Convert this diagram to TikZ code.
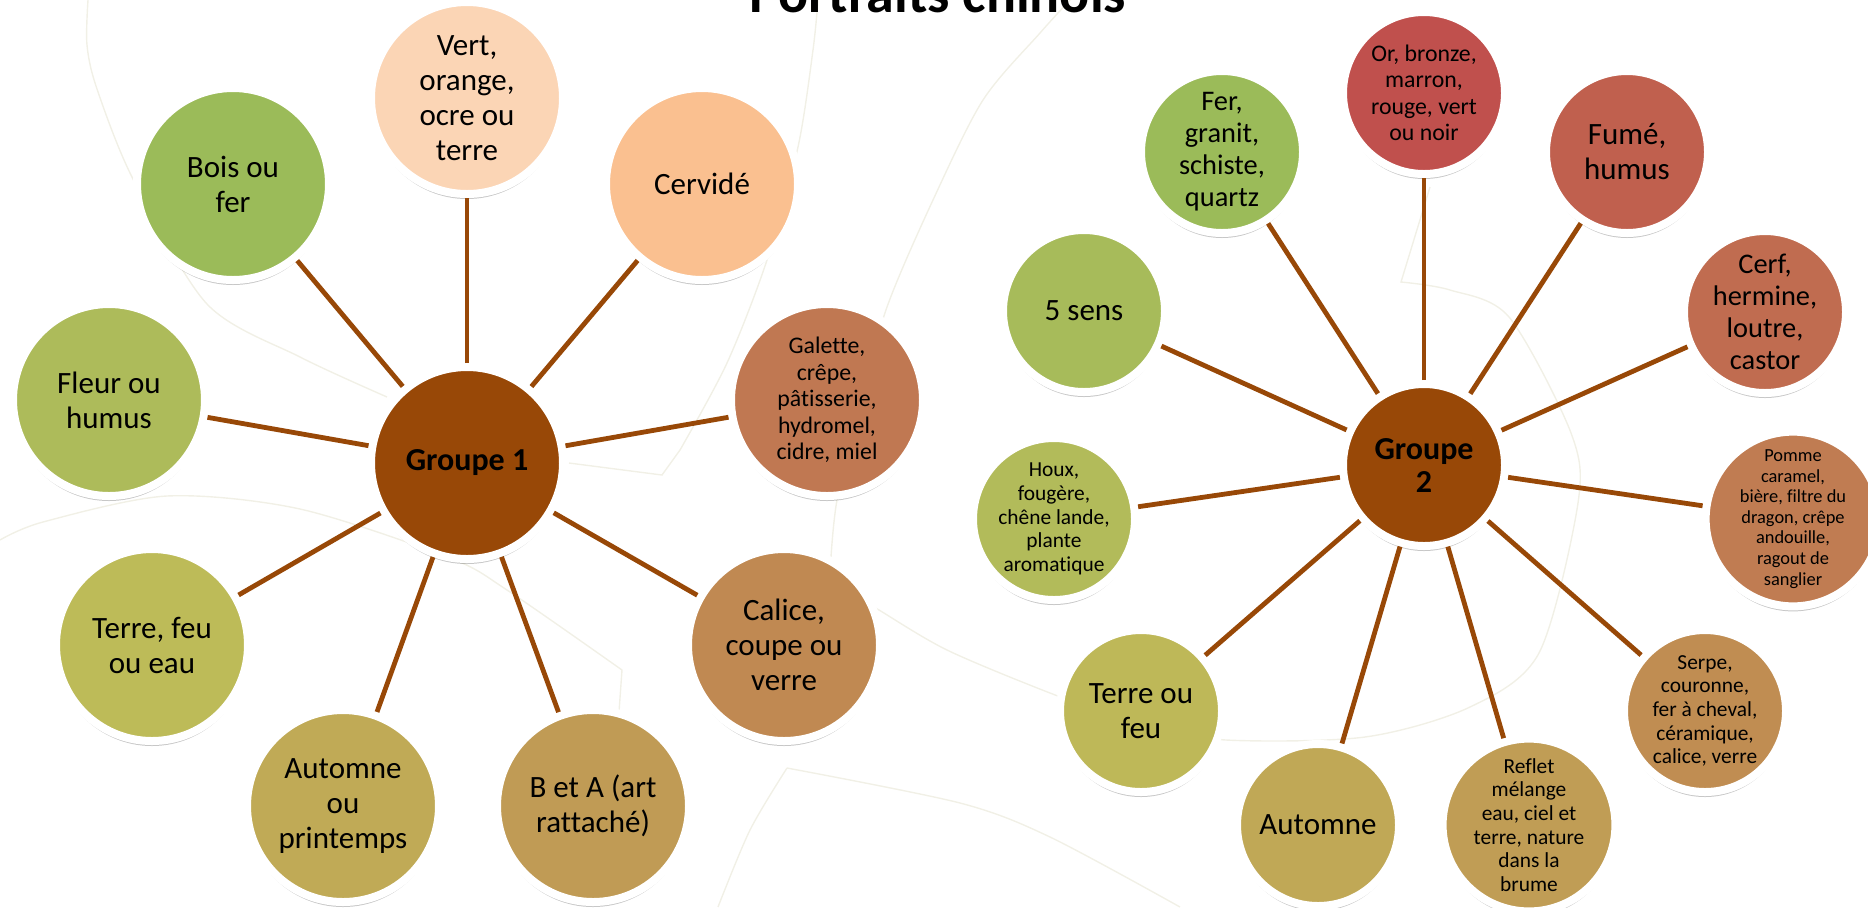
\documentclass[tikz,border=0pt]{standalone}
\usepackage{fontspec}
\setmainfont{Carlito}[Ligatures=NoCommon]
\usetikzlibrary{shadows}
\definecolor{hubbrown}{HTML}{984807}
\definecolor{bgbeige}{RGB}{241,240,230}
% group 1 leaves
\definecolor{peachlight}{HTML}{FBD5B5}
\definecolor{peachmid}{HTML}{FAC090}
\definecolor{leafgreen}{HTML}{9BBB59}
\definecolor{leafA}{RGB}{173,187,90}
\definecolor{leafB}{RGB}{189,187,88}
\definecolor{leafC}{RGB}{192,170,86}
\definecolor{leafD}{RGB}{192,155,85}
\definecolor{leafE}{RGB}{192,137,82}
\definecolor{leafF}{RGB}{192,120,82}
% group 2 leaves
\definecolor{redA}{HTML}{C0504D}
\definecolor{redB}{RGB}{192,96,78}
\definecolor{redC}{RGB}{192,108,80}
\definecolor{redD}{RGB}{192,124,82}
\definecolor{redE}{RGB}{192,141,82}
\definecolor{redF}{RGB}{192,157,85}
\definecolor{redG}{RGB}{192,168,86}
\definecolor{redH}{RGB}{190,184,88}
\definecolor{redI}{RGB}{178,187,90}
\definecolor{redJ}{RGB}{167,187,90}
\tikzset{
bubble/.style={circle,draw=white,line width=4pt,fill=#1,inner sep=0pt,align=center,
  drop shadow={shadow xshift=0pt,shadow yshift=-2.5pt,opacity=.22,fill=black}},
leafone/.style={bubble=#1,minimum size=96pt},
leaftwo/.style={bubble=#1,minimum size=81pt},
spoke/.style={draw=hubbrown,line width=2.4pt},
bgline/.style={draw=bgbeige,line width=.7pt},
txtL/.style={font=\fontsize{15.5}{17.5}\selectfont},
txtM/.style={font=\fontsize{14.2}{16}\selectfont},
txtS/.style={font=\fontsize{11.9}{13.2}\selectfont},
txtXS/.style={font=\fontsize{10.7}{11.8}\selectfont},
txtXXS/.style={font=\fontsize{9.2}{10.3}\selectfont},
txtHub/.style={font=\fontsize{16}{16.5}\selectfont\bfseries},
}

\begin{document}
\begin{tikzpicture}[x=0.5pt,y=-0.5pt]

        \useasboundingbox (0,0) rectangle (1868,907);
        \clip (0,0) rectangle (1868,907);

        % Background curves
        \draw[bgline] plot[smooth] coordinates {(88,0) (87,45) (97,89) (133,179) (207,304) (300,357) (387,397)};
        \draw[bgline] plot[smooth] coordinates {(0,540) (43,522) (167,496) (300,509) (450,558) (507,590) (622,670)} -- (617,740);
        \draw[bgline] plot[smooth] coordinates {(818,0) (813,50) (798,147) (767,260) (727,363) (680,450)}
                      -- (662,475) -- (569,463);
        \draw[bgline] plot[smooth] coordinates {(1070,0) (1040,33) (983,100) (933,200) (887,307) (858,410) (837,500) (831,557)};
        \draw[bgline] plot[smooth] coordinates {(862,600) (879,610) (947,650) (1050,693) (1140,725) (1226,740)
                      (1365,737) (1470,707) (1539,653) (1578,503) (1571,433) (1509,317) (1450,290) (1401,282)}
                      -- (1430,187);
        \draw[bgline] plot[smooth] coordinates {(718,907) (750,830) (787,768)};
        \draw[bgline] plot[smooth] coordinates {(787,768) (960,803) (1050,837) (1180,907)};

        % Title
        \node (title) at (938,12) [anchor=base,font=\fontsize{28}{30}\selectfont\bfseries] {Portraits chinois};

        % Groupe 1
        \node[leafone=hubbrown,txtHub] (hubA) at (467,463) {Groupe 1};
        \node[leafone=peachlight,txtL] (vert) at (467,98) {Vert,\\orange,\\ocre ou\\terre};
        \node[leafone=leafgreen,txtL] (bois) at (233,184) {Bois ou\\fer};
        \node[leafone=peachmid,txtL] (cervide) at (702,184) {Cervidé};
        \node[leafone=leafA,txtL] (fleur) at (109,400) {Fleur ou\\humus};
        \node[leafone=leafF,txtS] (galette) at (827,400) {Galette,\\crêpe,\\pâtisserie,\\hydromel,\\cidre, miel};
        \node[leafone=leafB,txtL] (terrefeu) at (152,645) {Terre, feu\\ou eau};
        \node[leafone=leafE,txtL] (calice) at (784,645) {Calice,\\coupe ou\\verre};
        \node[leafone=leafC,txtL] (automneA) at (343,806) {Automne\\ou\\printemps};
        \node[leafone=leafD,txtL] (betA) at (593,806) {B et A (art\\rattaché)};

        \foreach \leaf in {vert,bois,cervide,fleur,galette,terrefeu,calice,automneA,betA}
          \draw[spoke] (hubA) -- (\leaf);

        % Groupe 2
        \node[leaftwo=hubbrown,txtHub] (hubB) at (1424,465) {Groupe\\2};
        \node[leaftwo=redA,txtS] (orbronze) at (1424,93) {Or, bronze,\\marron,\\rouge, vert\\ou noir};
        \node[leaftwo=leafgreen,txtM] (fer) at (1222,152) {Fer,\\granit,\\schiste,\\quartz};
        \node[leaftwo=redB,txtL] (fume) at (1627,152) {Fumé,\\humus};
        \node[leaftwo=redJ,txtL] (sens) at (1084,311) {5 sens};
        \node[leaftwo=redC,txtM] (cerf) at (1765,312) {Cerf,\\hermine,\\loutre,\\castor};
        \node[leaftwo=redI,txtXS] (houx) at (1054,519) {Houx,\\fougère,\\chêne lande,\\plante\\aromatique};
        \node[leaftwo=redD,txtXXS] (pomme) at (1793,519) {Pomme\\caramel,\\bière, filtre du\\dragon, crêpe\\andouille,\\ragout de\\sanglier};
        \node[leaftwo=redH,txtL] (terreou) at (1141,711) {Terre ou\\feu};
        \node[leaftwo=redE,txtXS] (serpe) at (1705,711) {Serpe,\\couronne,\\fer à cheval,\\céramique,\\calice, verre};
        \node[leaftwo=redG,txtL] (automneB) at (1318,825) {Automne};
        \node[leaftwo=redF,txtXS] (reflet) at (1529,825) {Reflet\\mélange\\eau, ciel et\\terre, nature\\dans la\\brume};

        \foreach \leaf in {orbronze,fer,fume,sens,cerf,houx,pomme,terreou,serpe,automneB,reflet}
          \draw[spoke] (hubB) -- (\leaf);

\end{tikzpicture}
\end{document}
